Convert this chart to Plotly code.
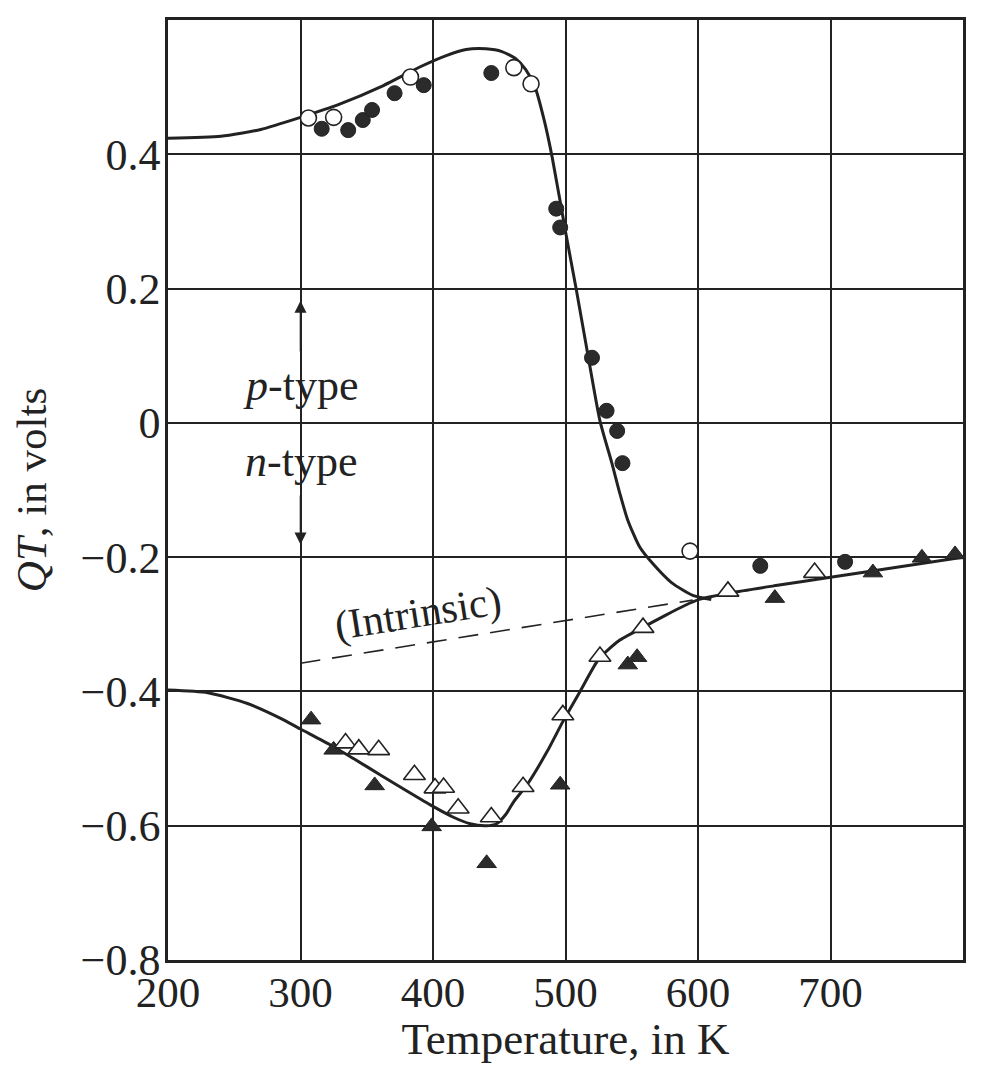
import plotly.graph_objects as go

# ---- data ----
# p-type sample (circles)
open_circ_T = [306, 325, 383, 461, 474, 594]
open_circ_V = [0.454, 0.455, 0.515, 0.529, 0.505, -0.191]
filled_circ_T = [316, 336, 347, 354, 371, 393, 444, 493, 496, 520, 531, 539, 543, 647, 711]
filled_circ_V = [0.438, 0.436, 0.451, 0.466, 0.491, 0.503, 0.521, 0.319, 0.291, 0.097,
                 0.018, -0.012, -0.06, -0.213, -0.207]

# n-type sample (triangles)
open_tri_T = [334, 344, 359, 386, 401.5, 408, 419, 444, 468, 498, 526, 558.5, 622.6, 688]
open_tri_V = [-0.477, -0.486, -0.487, -0.524, -0.544, -0.543, -0.574, -0.587, -0.542,
              -0.435, -0.348, -0.305, -0.251, -0.223]
filled_tri_T = [308, 325, 356, 399, 440.5, 496, 547, 554, 658, 732, 769, 794]
filled_tri_V = [-0.442, -0.487, -0.540, -0.601, -0.656, -0.539, -0.360, -0.349, -0.261,
                -0.223, -0.201, -0.196]

# fitted curves
p_curve_T = [200, 240, 270, 300, 330, 360, 390, 410, 425, 440, 452, 462, 470, 477, 484, 490,
             500, 508, 517, 526, 535, 541, 547, 556, 566, 580, 596, 610]
p_curve_V = [0.424, 0.427, 0.437, 0.455, 0.475, 0.500, 0.530, 0.547, 0.556, 0.557, 0.553,
             0.543, 0.526, 0.50, 0.45, 0.395, 0.285, 0.20, 0.10, 0.003, -0.06, -0.105,
             -0.145, -0.185, -0.21, -0.238, -0.257, -0.263]

n_curve_T = [200, 230, 260, 285, 300, 322, 340, 360, 380, 398, 415, 428, 440, 448, 455, 461,
             471, 486, 498, 511, 525, 540, 558, 575, 590, 601, 625, 660, 700, 750, 800]
n_curve_V = [-0.398, -0.402, -0.418, -0.44, -0.456, -0.479, -0.50, -0.524, -0.548, -0.569,
             -0.587, -0.597, -0.600, -0.597, -0.583, -0.564, -0.539, -0.49, -0.445, -0.40,
             -0.352, -0.325, -0.305, -0.287, -0.272, -0.263, -0.253, -0.242, -0.230,
             -0.215, -0.200]

intrinsic_T = [300, 596]
intrinsic_V = [-0.358, -0.264]

x_ticks = [200, 300, 400, 500, 600, 700, 800]
y_ticks = [0.6, 0.4, 0.2, 0, -0.2, -0.4, -0.6, -0.8]
y_ticktext = ["0.6", "0.4", "0.2", "0", "\u22120.2", "\u22120.4", "\u22120.6", "\u22120.8"]

INK = "#222222"
FONT = "Liberation Serif"

fig = go.Figure()

fig.add_trace(go.Scatter(x=p_curve_T, y=p_curve_V, mode="lines",
                         line=dict(color=INK, width=3, shape="spline", smoothing=0.6),
                         hoverinfo="skip", showlegend=False))
fig.add_trace(go.Scatter(x=n_curve_T, y=n_curve_V, mode="lines",
                         line=dict(color=INK, width=3, shape="spline", smoothing=0.6),
                         hoverinfo="skip", showlegend=False))
fig.add_trace(go.Scatter(x=intrinsic_T, y=intrinsic_V, mode="lines",
                         line=dict(color=INK, width=1.6, dash="20px,12px"),
                         hoverinfo="skip", showlegend=False))

fig.add_trace(go.Scatter(x=filled_circ_T, y=filled_circ_V, mode="markers",
                         marker=dict(symbol="circle", size=15, color="#2b2b2b",
                                     line=dict(color=INK, width=1)),
                         showlegend=False))
fig.add_trace(go.Scatter(x=open_circ_T, y=open_circ_V, mode="markers",
                         marker=dict(symbol="circle", size=16, color="white",
                                     line=dict(color=INK, width=1.6)),
                         showlegend=False))
fig.add_trace(go.Scatter(x=filled_tri_T, y=filled_tri_V, mode="markers",
                         marker=dict(symbol="triangle-up", size=17, color="#2b2b2b",
                                     line=dict(color=INK, width=1)),
                         showlegend=False))
fig.add_trace(go.Scatter(x=open_tri_T, y=open_tri_V, mode="markers",
                         marker=dict(symbol="triangle-up", size=19, color="white",
                                     line=dict(color=INK, width=1.6)),
                         showlegend=False))

annotations = [
    dict(x=300, y=0.055, text="<i>p</i>-type", showarrow=False,
         font=dict(family=FONT, size=44, color=INK), xanchor="center", yanchor="middle"),
    dict(x=300, y=-0.057, text="<i>n</i>-type", showarrow=False,
         font=dict(family=FONT, size=44, color=INK), xanchor="center", yanchor="middle"),
    dict(x=389, y=-0.284, text="(Intrinsic)", showarrow=False, textangle=-9,
         font=dict(family=FONT, size=42, color=INK), xanchor="center", yanchor="middle"),
    dict(x=300, y=0.182, ax=300, ay=0.104, xref="x", yref="y", axref="x", ayref="y",
         text="", showarrow=True, arrowhead=2, arrowsize=1.5, arrowwidth=1.6,
         arrowcolor=INK),
    dict(x=300, y=-0.181, ax=300, ay=-0.106, xref="x", yref="y", axref="x", ayref="y",
         text="", showarrow=True, arrowhead=2, arrowsize=1.5, arrowwidth=1.6,
         arrowcolor=INK),
]

fig.update_layout(
    width=979, height=1056,
    margin=dict(l=160, r=24, t=12, b=104, autoexpand=False),
    paper_bgcolor="white", plot_bgcolor="white",
    font=dict(family=FONT, color=INK),
    annotations=annotations,
    showlegend=False,
)
fig.update_xaxes(
    range=[200, 800], tickvals=x_ticks, ticktext=[str(t) for t in x_ticks],
    showgrid=True, gridcolor=INK, gridwidth=2,
    showline=True, linecolor=INK, linewidth=2.5, mirror=True,
    zeroline=False, ticks="", ticklabelstandoff=-7, automargin=False,
    tickfont=dict(family=FONT, size=43, color=INK),
    title=dict(text="Temperature, in K", font=dict(family=FONT, size=45, color=INK),
               standoff=10),
)
fig.update_yaxes(
    range=[-0.8, 0.6], tickvals=y_ticks, ticktext=y_ticktext,
    showgrid=True, gridcolor=INK, gridwidth=2,
    showline=True, linecolor=INK, linewidth=2.5, mirror=True,
    zeroline=False, ticks="", ticklabelstandoff=-4, automargin=False,
    tickfont=dict(family=FONT, size=44, color=INK),
    title=dict(text="<i>QT</i>, in volts", font=dict(family=FONT, size=43, color=INK),
               standoff=30),
)

fig.write_html("out.html")
